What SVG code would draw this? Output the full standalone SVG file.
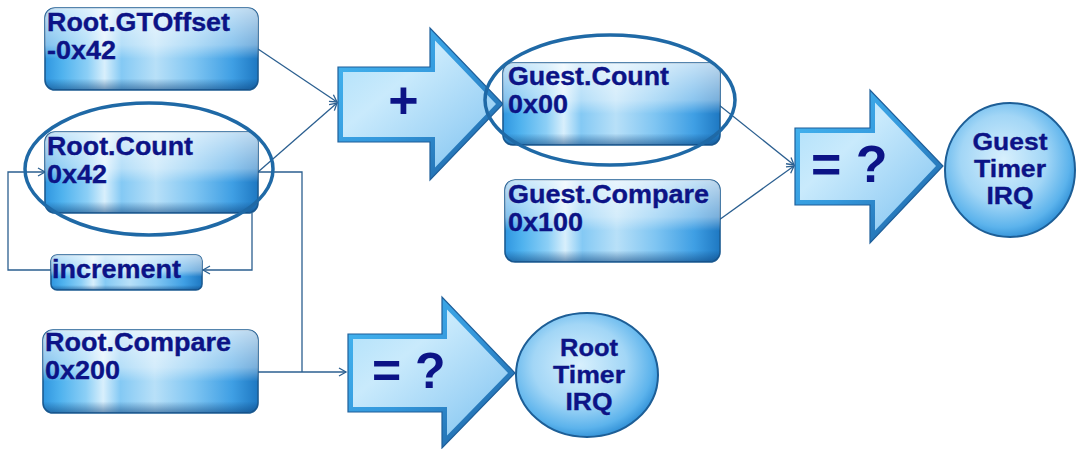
<svg xmlns="http://www.w3.org/2000/svg" width="1078" height="449" viewBox="0 0 1078 449">
  <defs>
    <!-- glossy blue fill for register boxes -->
    <linearGradient id="boxH" x1="0" y1="0" x2="1" y2="0">
      <stop offset="0" stop-color="#2f96e0"/>
      <stop offset="0.08" stop-color="#4fb2ee"/>
      <stop offset="0.2" stop-color="#8ccff6"/>
      <stop offset="0.28" stop-color="#d8effc"/>
      <stop offset="0.36" stop-color="#84c9f4"/>
      <stop offset="0.52" stop-color="#b8e0f8"/>
      <stop offset="0.7" stop-color="#7fc5f2"/>
      <stop offset="0.88" stop-color="#3f9fe4"/>
      <stop offset="1" stop-color="#1e78c2"/>
    </linearGradient>
    <linearGradient id="boxV" x1="0" y1="0" x2="0" y2="1">
      <stop offset="0" stop-color="#ffffff" stop-opacity="0.7"/>
      <stop offset="0.45" stop-color="#ffffff" stop-opacity="0.4"/>
      <stop offset="0.62" stop-color="#ffffff" stop-opacity="0"/>
      <stop offset="0.86" stop-color="#0a3f78" stop-opacity="0"/>
      <stop offset="1" stop-color="#0a3f78" stop-opacity="0.55"/>
    </linearGradient>
    <!-- block arrows: bevelled rim and lighter face -->
    <linearGradient id="arrowRim" x1="0" y1="0" x2="1" y2="1">
      <stop offset="0" stop-color="#45b8f2"/>
      <stop offset="0.5" stop-color="#3498dc"/>
      <stop offset="1" stop-color="#1a5a9a"/>
    </linearGradient>
    <linearGradient id="arrowFace" x1="0" y1="0" x2="1" y2="1">
      <stop offset="0" stop-color="#aee0fa"/>
      <stop offset="0.35" stop-color="#c9eafc"/>
      <stop offset="0.7" stop-color="#a2d5f6"/>
      <stop offset="1" stop-color="#7cc2f0"/>
    </linearGradient>
    <!-- round IRQ nodes -->
    <radialGradient id="ballFill" cx="0.45" cy="0.42" r="0.6">
      <stop offset="0" stop-color="#d8f0fd"/>
      <stop offset="0.55" stop-color="#a2d6f6"/>
      <stop offset="0.85" stop-color="#5cb3ec"/>
      <stop offset="1" stop-color="#2f8fd6"/>
    </radialGradient>
    <marker id="tip" markerWidth="10" markerHeight="10" refX="8" refY="5" orient="auto" markerUnits="userSpaceOnUse">
      <path d="M1,1 L8,5 L1,9" fill="none" stroke="#2b5f90" stroke-width="1.3"/>
    </marker>
    <style>
      .box { fill: url(#boxH); stroke: #1c5c93; stroke-width: 1.6; }
      .gloss { fill: url(#boxV); stroke: none; }
      .rim { fill: url(#arrowRim); stroke: #1f5f9a; stroke-width: 1.2; stroke-linejoin: miter; }
      .face { fill: url(#arrowFace); stroke: none; }
      .ball { fill: url(#ballFill); stroke: #1d5e96; stroke-width: 2; }
      .ring { fill: none; stroke: #1f69a6; stroke-width: 3.5; }
      .lbl { font-family: "Liberation Sans", Arial, sans-serif; font-weight: bold; font-size: 25px; fill: #0c1386; stroke: #0c1386; stroke-width: 0.35; }
      .mid { text-anchor: middle; font-size: 24px; }
      .op { font-family: "Liberation Sans", Arial, sans-serif; font-weight: bold; fill: #0c1386; }
      .wire { fill: none; stroke: #2b5f90; stroke-width: 1.3; }
    </style>
  </defs>

  <rect width="1078" height="449" fill="#ffffff"/>

  <!-- connectors -->
  <g id="connectors">
    <path class="wire" d="M258,49 L337,102" marker-end="url(#tip)"/>
    <path class="wire" d="M258,172 L337,103" marker-end="url(#tip)"/>
    <path class="wire" d="M258,172 H302 V372"/>
    <path class="wire" d="M258,372 H346" marker-end="url(#tip)"/>
    <path class="wire" d="M252,213 V270 H203" marker-end="url(#tip)"/>
    <path class="wire" d="M51,270 H8 V172 H45" marker-end="url(#tip)"/>
    <path class="wire" d="M719,105 L794,165" marker-end="url(#tip)"/>
    <path class="wire" d="M719,220 L794,166" marker-end="url(#tip)"/>
  </g>

  <g id="root-gtoffset">
    <rect class="box" x="45" y="8" width="213" height="82" rx="10"/>
    <rect class="gloss" x="45" y="8" width="213" height="82" rx="10"/>
    <text class="lbl" x="47" y="31" textLength="183" lengthAdjust="spacingAndGlyphs">Root.GTOffset</text>
    <text class="lbl" x="47" y="59" textLength="69" lengthAdjust="spacingAndGlyphs">-0x42</text>
  </g>

  <g id="root-count">
    <rect class="box" x="45" y="132" width="213" height="81" rx="10"/>
    <rect class="gloss" x="45" y="132" width="213" height="81" rx="10"/>
    <text class="lbl" x="47" y="155" textLength="146" lengthAdjust="spacingAndGlyphs">Root.Count</text>
    <text class="lbl" x="47" y="183" textLength="60" lengthAdjust="spacingAndGlyphs">0x42</text>
    <ellipse class="ring" cx="149" cy="169" rx="124" ry="66"/>
  </g>

  <g id="increment">
    <rect class="box" x="51" y="255" width="151" height="35" rx="6"/>
    <rect class="gloss" x="51" y="255" width="151" height="35" rx="6"/>
    <text class="lbl" x="52" y="278" textLength="129" lengthAdjust="spacingAndGlyphs">increment</text>
  </g>

  <g id="root-compare">
    <rect class="box" x="43" y="330" width="215" height="83" rx="10"/>
    <rect class="gloss" x="43" y="330" width="215" height="83" rx="10"/>
    <text class="lbl" x="45" y="351" textLength="186" lengthAdjust="spacingAndGlyphs">Root.Compare</text>
    <text class="lbl" x="45" y="379" textLength="75" lengthAdjust="spacingAndGlyphs">0x200</text>
  </g>

  <g id="add">
    <path class="rim" d="M338,67 H430 V28 L503,104 L430,180 V142 H338 Z"/>
    <path class="face" d="M343,72 H435 V40.5 L496,104 L435,167.5 V137 H343 Z"/>
    <text class="op" x="403.5" y="118" font-size="52" text-anchor="middle">+</text>
  </g>

  <g id="guest-count">
    <rect class="box" x="503" y="63" width="217" height="82" rx="10"/>
    <rect class="gloss" x="503" y="63" width="217" height="82" rx="10"/>
    <text class="lbl" x="508" y="85" textLength="161" lengthAdjust="spacingAndGlyphs">Guest.Count</text>
    <text class="lbl" x="508" y="113" textLength="60" lengthAdjust="spacingAndGlyphs">0x00</text>
    <ellipse class="ring" cx="610" cy="100" rx="125" ry="65"/>
  </g>

  <g id="guest-compare">
    <rect class="box" x="505" y="180" width="215" height="82" rx="10"/>
    <rect class="gloss" x="505" y="180" width="215" height="82" rx="10"/>
    <text class="lbl" x="508" y="203" textLength="201" lengthAdjust="spacingAndGlyphs">Guest.Compare</text>
    <text class="lbl" x="508" y="231" textLength="75" lengthAdjust="spacingAndGlyphs">0x100</text>
  </g>

  <g id="guest-equal">
    <path class="rim" d="M795,128 H870 V90 L943,166 L870,243 V205 H795 Z"/>
    <path class="face" d="M800,133 H875 V102.5 L936,166 L875,230.5 V200 H800 Z"/>
    <text class="op" x="811" y="182" font-size="52">= ?</text>
  </g>

  <g id="guest-irq">
    <ellipse class="ball" cx="1010" cy="170" rx="65" ry="67"/>
    <text class="lbl mid" x="1010" y="150" textLength="75" lengthAdjust="spacingAndGlyphs">Guest</text>
    <text class="lbl mid" x="1010" y="177" textLength="72" lengthAdjust="spacingAndGlyphs">Timer</text>
    <text class="lbl mid" x="1010" y="204" textLength="47" lengthAdjust="spacingAndGlyphs">IRQ</text>
  </g>

  <g id="root-equal">
    <path class="rim" d="M348,334 H442 V297 L515,373 L442,448 V412 H348 Z"/>
    <path class="face" d="M353,339 H447 V309.5 L508,373 L447,435.5 V407 H353 Z"/>
    <text class="op" x="372" y="388" font-size="50">= ?</text>
  </g>

  <g id="root-irq">
    <ellipse class="ball" cx="587" cy="375" rx="71" ry="62"/>
    <text class="lbl mid" x="589" y="356" textLength="58" lengthAdjust="spacingAndGlyphs">Root</text>
    <text class="lbl mid" x="589" y="383" textLength="72" lengthAdjust="spacingAndGlyphs">Timer</text>
    <text class="lbl mid" x="589" y="410" textLength="47" lengthAdjust="spacingAndGlyphs">IRQ</text>
  </g>
</svg>
